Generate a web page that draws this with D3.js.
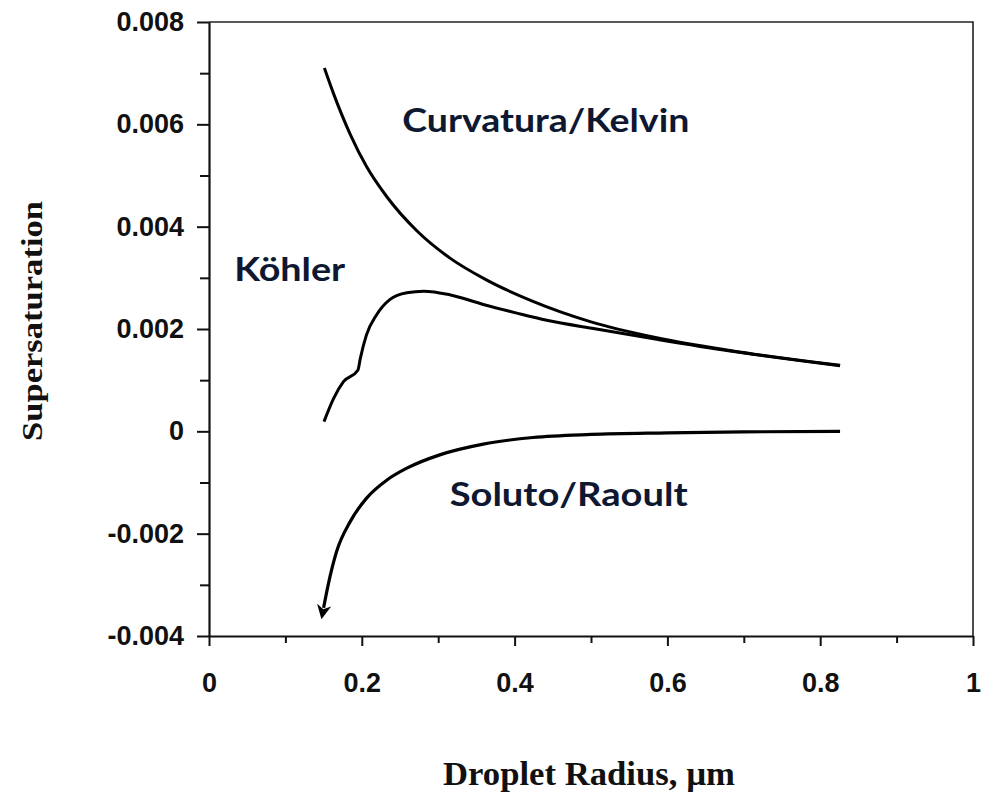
<!DOCTYPE html>
<html>
<head>
<meta charset="utf-8">
<script src="https://cdn.jsdelivr.net/npm/d3@7"></script>
<style>
  body { margin: 0; background: #fff; }
</style>
</head>
<body>
<svg id="chart" width="986" height="792"></svg>
<script>
// values (radius in um, supersaturation)
var kelvinR = [0.151, 0.163, 0.185, 0.206, 0.233, 0.272, 0.315, 0.363, 0.424, 0.50, 0.586, 0.682, 0.826];
var kelvinS = [0.00710, 0.00660, 0.00580, 0.00518, 0.00458, 0.00392, 0.00339, 0.00296, 0.00254, 0.00214, 0.00183, 0.00158, 0.00129];

var kohlerR = [0.1505, 0.163, 0.176, 0.195, 0.198, 0.206, 0.219, 0.237, 0.259, 0.281, 0.315, 0.359, 0.403, 0.442, 0.507, 0.586, 0.682, 0.826];
var kohlerS = [0.00019, 0.00064, 0.00097, 0.00120, 0.00142, 0.00188, 0.00227, 0.00258, 0.00271, 0.00274, 0.00267, 0.00248, 0.00231, 0.00217, 0.00200, 0.00180, 0.00157, 0.00128];

var raoultR = [0.150, 0.156, 0.167, 0.185, 0.206, 0.233, 0.259, 0.302, 0.359, 0.424, 0.50, 0.60, 0.70, 0.826];
var raoultS = [-0.00345, -0.00300, -0.00235, -0.00176, -0.00131, -0.00095, -0.00072, -0.00046, -0.00025, -0.00012, -0.00006, -0.00003, -0.00001, 0];

var xTicks = [0, 0.2, 0.4, 0.6, 0.8, 1];
var xMinor = [0.1, 0.3, 0.5, 0.7, 0.9];
var yTicks = [-0.004, -0.002, 0, 0.002, 0.004, 0.006, 0.008];
var yMinor = [-0.003, -0.001, 0.001, 0.003, 0.005, 0.007];
var yTickLabels = ["-0.004", "-0.002", "0", "0.002", "0.004", "0.006", "0.008"];
var xTickLabels = ["0", "0.2", "0.4", "0.6", "0.8", "1"];

var curveLabels = ["Curvatura/Kelvin", "Köhler", "Soluto/Raoult"];
var xTitle = "Droplet Radius, µm";
var yTitle = "Supersaturation";

var margin = { top: 22, right: 13, bottom: 156, left: 209 },
    width = 986 - margin.left - margin.right,
    height = 792 - margin.top - margin.bottom;

var svg = d3.select('#chart');
var g = svg.append('g')
  .attr("transform", "translate(" + margin.left + "," + margin.top + ")");

var x = d3.scaleLinear().domain([0, 1]).range([0, width]);
var y = d3.scaleLinear().domain([-0.004, 0.008]).range([height, 0]);

var tickFont = "'Liberation Sans', Arial, sans-serif";

// frame on top and right
g.append('path')
  .attr("d", "M0,0H" + width + "V" + height)
  .attr("fill", "none")
  .attr("stroke", "#222")
  .attr("stroke-width", 1.6);

// minor ticks first, then major axes on top
g.append('g')
  .attr("transform", "translate(0," + height + ")")
  .call(d3.axisBottom(x).tickValues(xMinor).tickSize(7).tickFormat(""))
  .call(a => a.select(".domain").remove());
g.append('g')
  .call(d3.axisLeft(y).tickValues(yMinor).tickSize(9).tickFormat(""))
  .call(a => a.select(".domain").remove());

var xAxis = g.append('g')
  .attr("transform", "translate(0," + height + ")")
  .call(d3.axisBottom(x).tickValues(xTicks).tickSize(10).tickSizeOuter(0).tickPadding(27)
    .tickFormat((d, i) => xTickLabels[i]));

var yAxis = g.append('g')
  .call(d3.axisLeft(y).tickValues(yTicks).tickSize(12).tickSizeOuter(0).tickPadding(13)
    .tickFormat((d, i) => yTickLabels[i]));

[xAxis, yAxis].forEach(function(a) {
  a.select(".domain").attr("stroke-width", 2.2).attr("stroke", "#111");
  a.selectAll(".tick text")
    .style("font-family", tickFont)
    .style("font-weight", "bold")
    .style("font-size", "27px")
    .attr("fill", "#111");
});
g.selectAll(".tick line").attr("stroke-width", 2).attr("stroke", "#111");

// arrow head at the small-radius end of the Raoult curve
svg.append("defs").append("marker")
  .attr("id", "arrow")
  .attr("viewBox", "0 0 10 10")
  .attr("refX", 2)
  .attr("refY", 5)
  .attr("markerWidth", 4.5)
  .attr("markerHeight", 4.5)
  .attr("markerUnits", "strokeWidth")
  .attr("orient", "auto-start-reverse")
  .append("path")
    .attr("d", "M0,0L10,5L0,10L3,5Z")
    .attr("fill", "#000");

var line = d3.line()
  .x(d => x(d[0]))
  .y(d => y(d[1]))
  .curve(d3.curveMonotoneX);

function pairs(r, s) { return r.map((v, i) => [v, s[i]]); }

g.append('path')
  .datum(pairs(kelvinR, kelvinS))
  .attr("fill", "none")
  .attr("stroke", "#000")
  .attr("stroke-width", 3)
  .attr("d", line);

g.append('path')
  .datum(pairs(kohlerR, kohlerS))
  .attr("fill", "none")
  .attr("stroke", "#000")
  .attr("stroke-width", 3)
  .attr("d", line);

g.append('path')
  .datum(pairs(raoultR, raoultS))
  .attr("fill", "none")
  .attr("stroke", "#000")
  .attr("stroke-width", 3.2)
  .attr("marker-start", "url(#arrow)")
  .attr("d", line);

// curve labels
var labelFont = "Lato, 'Open Sans', sans-serif";
var labelSpots = [[0.253, 0.00585, 287], [0.033, 0.00293, 111], [0.315, -0.00146, 238]];
curveLabels.forEach(function(t, i) {
  g.append("text")
    .attr("x", x(labelSpots[i][0]))
    .attr("y", y(labelSpots[i][1]))
    .attr("textLength", labelSpots[i][2])
    .attr("lengthAdjust", "spacingAndGlyphs")
    .style("font-family", labelFont)
    .style("font-weight", "bold")
    .style("font-size", "32px")
    .attr("fill", "#0e1830")
    .text(t);
});

// axis titles
svg.append("text")
  .attr("x", 589)
  .attr("y", 785)
  .attr("text-anchor", "middle")
  .attr("textLength", 292)
  .attr("lengthAdjust", "spacingAndGlyphs")
  .style("font-family", "'Liberation Serif', 'Times New Roman', serif")
  .style("font-weight", "bold")
  .style("font-size", "33px")
  .attr("fill", "#111")
  .text(xTitle);

svg.append("text")
  .attr("transform", "translate(42,321) rotate(-90)")
  .attr("text-anchor", "middle")
  .attr("textLength", 240)
  .attr("lengthAdjust", "spacingAndGlyphs")
  .style("font-family", "'Liberation Serif', 'Times New Roman', serif")
  .style("font-weight", "bold")
  .style("font-size", "30px")
  .attr("fill", "#111")
  .text(yTitle);
</script>
</body>
</html>
